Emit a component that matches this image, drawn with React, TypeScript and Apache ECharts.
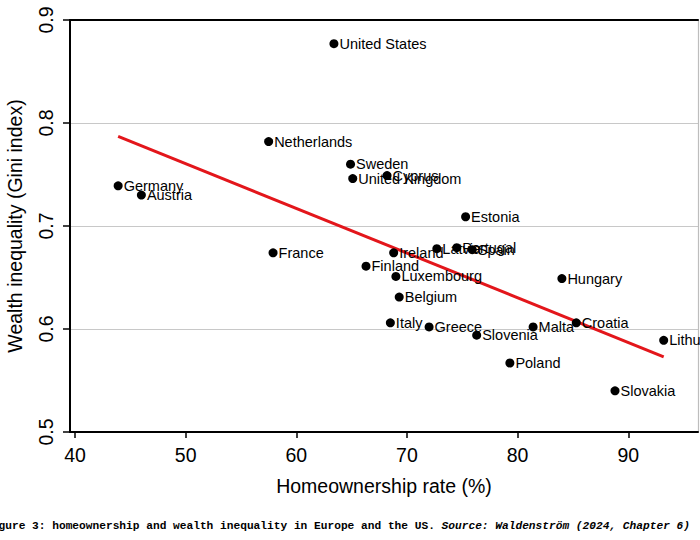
import React, { useEffect, useRef } from "react";
import * as echarts from "echarts";

const countries = [
  "United States", "Netherlands", "Sweden", "United Kingdom", "Cyprus",
  "Germany", "Austria", "Estonia", "France", "Latvia", "Portugal", "Spain",
  "Ireland", "Finland", "Luxembourg", "Hungary", "Belgium", "Italy",
  "Greece", "Slovenia", "Malta", "Croatia", "Lithuania", "Poland", "Slovakia",
];
const homeownership = [
  63.4, 57.5, 64.9, 65.1, 68.2,
  43.9, 46.0, 75.3, 57.9, 72.7, 74.5, 75.9,
  68.8, 66.3, 69.0, 84.0, 69.3, 68.5,
  72.0, 76.3, 81.4, 85.3, 93.2, 79.3, 88.8,
];
const gini = [
  0.877, 0.782, 0.760, 0.746, 0.749,
  0.739, 0.730, 0.709, 0.674, 0.678, 0.679, 0.677,
  0.674, 0.661, 0.651, 0.649, 0.631, 0.606,
  0.602, 0.594, 0.602, 0.606, 0.589, 0.567, 0.540,
];
const fitX = [43.9, 93.2];
const fitY = [0.787, 0.573];
const xTicks = [40, 50, 60, 70, 80, 90];

const FONT = "'Liberation Sans', Arial, sans-serif";
const MONO = "'Liberation Mono', 'Courier New', monospace";

export default function App() {
  const ref = useRef<HTMLDivElement>(null);
  useEffect(() => {
    if (!ref.current) return;
    const chart = echarts.init(ref.current, null, { renderer: "svg" });
    const points = countries.map((c, i) => ({ name: c, value: [homeownership[i], gini[i]] }));
    chart.setOption({
      animation: false,
      backgroundColor: "#fff",
      grid: { left: 70, top: 20, right: 2, bottom: 108, containLabel: false, outerBoundsMode: "none" },
      xAxis: [
        {
          type: "value",
          min: 39.55,
          max: 96.3,
          name: "Homeownership rate (%)",
          nameLocation: "middle",
          nameGap: 44,
          nameTextStyle: { fontFamily: FONT, fontSize: 19.5, color: "#000" },
          axisLine: { show: true, lineStyle: { color: "#000", width: 2 } },
          axisTick: { show: true, customValues: xTicks, length: 6, lineStyle: { color: "#000", width: 1.5 } },
          axisLabel: { customValues: xTicks, fontFamily: FONT, fontSize: 19.5, color: "#000", margin: 13 },
          splitLine: { show: false },
        },
        {
          type: "value",
          position: "top",
          min: 39.55,
          max: 96.3,
          axisLine: { show: true, lineStyle: { color: "#000", width: 2 } },
          axisTick: { show: false },
          axisLabel: { show: false },
          splitLine: { show: false },
        },
      ],
      yAxis: [
        {
          type: "value",
          min: 0.5,
          max: 0.9,
          interval: 0.1,
          name: "Wealth inequality (Gini index)",
          nameLocation: "middle",
          nameGap: 45,
          nameTextStyle: { fontFamily: FONT, fontSize: 19.5, color: "#000" },
          axisLine: { show: true, lineStyle: { color: "#000", width: 2 } },
          axisTick: { show: true, length: 7, lineStyle: { color: "#000", width: 1.5 } },
          axisLabel: {
            rotate: 90,
            fontFamily: FONT,
            fontSize: 19.5,
            color: "#000",
            margin: 14,
            formatter: (v: number) => v.toFixed(1),
          },
          splitLine: { show: true, lineStyle: { color: "#c8c8c8", width: 1.2 } },
        },
        {
          type: "value",
          position: "right",
          min: 0.5,
          max: 0.9,
          interval: 0.1,
          axisLine: { show: true, lineStyle: { color: "#bdbdbd", width: 1.2 } },
          axisTick: { show: false },
          axisLabel: { show: false },
          splitLine: { show: false },
        },
      ],
      series: [
        {
          type: "line",
          data: fitX.map((x, i) => [x, fitY[i]]),
          symbol: "none",
          lineStyle: { color: "#e3161b", width: 3 },
          silent: true,
          z: 2,
        },
        {
          type: "scatter",
          data: points,
          symbolSize: 9,
          itemStyle: { color: "#000", opacity: 1 },
          label: {
            show: true,
            position: "right",
            distance: 1,
            formatter: "{b}",
            fontFamily: FONT,
            fontSize: 14.5,
            color: "#000",
          },
          z: 3,
        },
      ],
      graphic: [
        {
          type: "text",
          right: 10,
          top: 520,
          style: {
            text: "{a|Figure 3: homeownership and wealth inequality in Europe and the US. }{b|Source: Waldenström (2024, Chapter 6)}",
            rich: {
              a: { fontFamily: MONO, fontSize: 11.2, fontWeight: "bold", fill: "#000" },
              b: { fontFamily: MONO, fontSize: 11.2, fontWeight: "bold", fontStyle: "italic", fill: "#000" },
            },
          },
        },
      ],
    });
    return () => chart.dispose();
  }, []);
  return <div ref={ref} style={{ width: 700, height: 540, position: "absolute", left: 0, top: 0 }} />;
}
